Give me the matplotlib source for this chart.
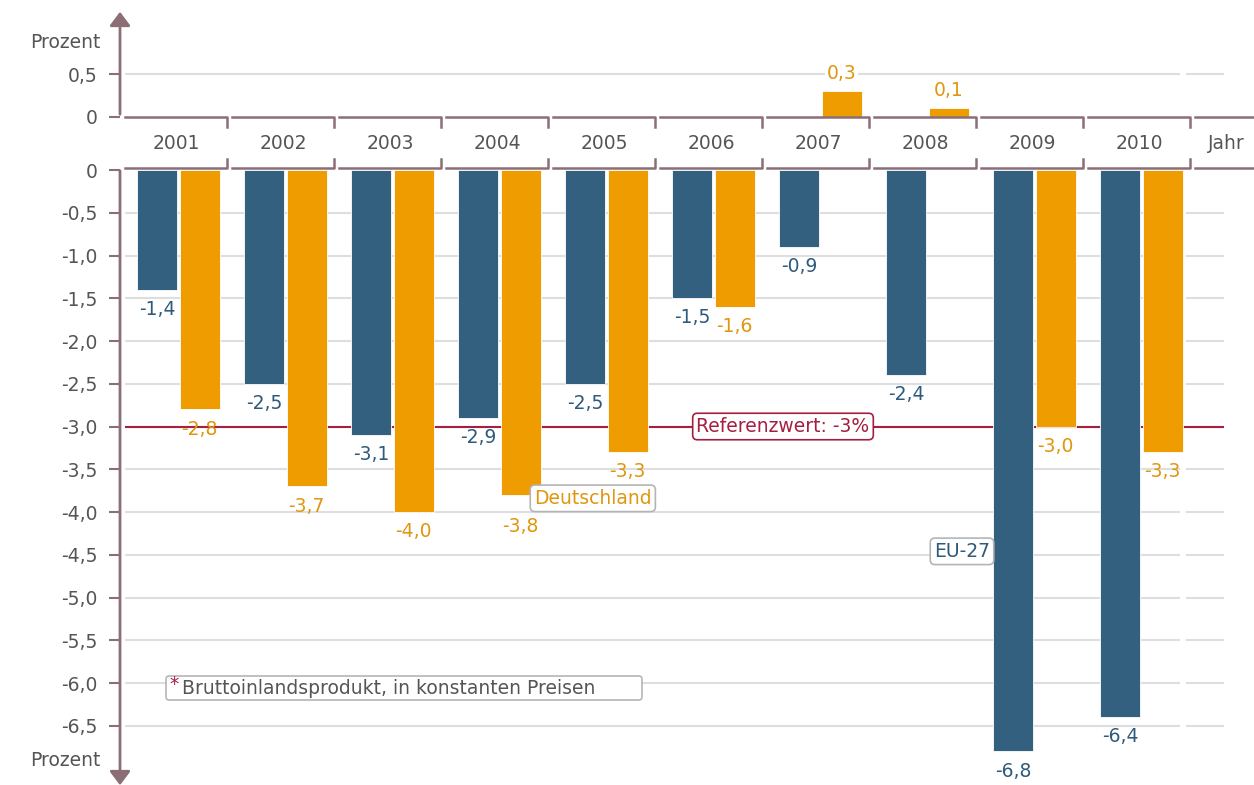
import matplotlib.pyplot as plt
from matplotlib.patches import FancyArrowPatch, FancyBboxPatch

# data (Defizit in % des BIP)
years = ['2001', '2002', '2003', '2004', '2005', '2006', '2007', '2008', '2009', '2010']
eu27 = [-1.4, -2.5, -3.1, -2.9, -2.5, -1.5, -0.9, -2.4, -6.8, -6.4]
deutschland = [-2.8, -3.7, -4.0, -3.8, -3.3, -1.6, 0.3, 0.1, -3.0, -3.3]
referenz = -3.0
top_ticks = [0, 0.5]
bot_ticks = [0, -0.5, -1.0, -1.5, -2.0, -2.5, -3.0, -3.5, -4.0, -4.5, -5.0, -5.5, -6.0, -6.5]

BLUE = '#34607f'
ORANGE = '#ef9c00'
BLUE_TXT = '#2f5a7b'
ORANGE_TXT = '#e0960f'
AXIS = '#8c6f76'
GRID = '#dedede'
RED = '#a51f42'
GREY_TXT = '#555555'
FS = 13.5

W, H = 1254, 785
K = 85.5          # pixel per Prozentpunkt
X0, DX = 178.5, 107.0

fig = plt.figure(figsize=(W / 100, H / 100), dpi=100)
plt.rcParams['font.family'] = 'DejaVu Sans'


def fy(py):
    return 1 - py / H


def fmt(v):
    return '0' if v == 0 else ('%.1f' % v).replace('.', ',')


xlim = ((120 - X0) / DX, (W - X0) / DX)
top_max = 0.75
bot_min = -7.15
ax_top = fig.add_axes([120 / W, fy(117), (W - 120) / W, top_max * K / H])
ax_bot = fig.add_axes([120 / W, fy(170 - bot_min * K), (W - 120) / W, -bot_min * K / H])
ax_top.set_ylim(0, top_max)
ax_bot.set_ylim(bot_min, 0)

for ax, ticks in [(ax_top, top_ticks), (ax_bot, bot_ticks)]:
    ax.set_xlim(*xlim)
    for s in ax.spines.values():
        s.set_visible(False)
    ax.set_xticks([])
    ax.set_yticks(ticks)
    ax.set_yticklabels([fmt(t) for t in ticks])
    ax.tick_params(axis='y', length=8, width=1.5, color=AXIS, pad=8,
                   labelsize=FS, labelcolor=GREY_TXT)
    # gridlines
    for t in ticks:
        if t == 0:
            continue
        ax.hlines(t, -0.5, 9.36, color=GRID, lw=1.5, zorder=0)
        ax.hlines(t, 9.42, 9.77, color=GRID, lw=1.5, zorder=0)

# reference line (behind the bars)
ax_bot.hlines(referenz, -0.5, 9.77, color=RED, lw=1.5, zorder=1)

off = 0.197
bw = 0.374
for i in range(len(years)):
    for val, dx, col, tcol in [(eu27[i], -off, BLUE, BLUE_TXT),
                               (deutschland[i], off, ORANGE, ORANGE_TXT)]:
        ax = ax_top if val > 0 else ax_bot
        ax.bar(i + dx, val, width=bw, color=col, edgecolor='white', lw=0.6, zorder=2)
        lab = fmt(val)
        if val > 0:
            ax.text(i + dx, val + 0.21, lab, ha='center', va='center', fontsize=FS,
                    color=tcol, zorder=4, clip_on=False,
                    bbox=dict(boxstyle='square,pad=0.1', fc='white', ec='none'))
        else:
            # 2004 Deutschland label sits lower, below the legend box
            shift = 0.37 if (i == 3 and dx > 0) else 0.23
            ax.text(i + dx, val - shift, lab, ha='center', va='center', fontsize=FS,
                    color=tcol, zorder=4, clip_on=False)

# year brackets and labels
for i in range(len(years) + 1):
    a, b = i - 0.5, i + 0.453
    ax_top.plot([a, b, b], [0, 0, -0.12], color=AXIS, lw=1.8, clip_on=False, zorder=3)
    ax_bot.plot([a, b, b], [0.023, 0.023, 0.13], color=AXIS, lw=1.8, clip_on=False, zorder=3)
    if i < len(years):
        ax_top.text(i - 0.02, -0.305, years[i], ha='center', va='center', fontsize=FS,
                    color=GREY_TXT, clip_on=False)
ax_top.text(9.79, -0.305, 'Jahr', ha='center', va='center', fontsize=FS,
            color=GREY_TXT, clip_on=False)

# y axis with arrows
fig.add_artist(FancyArrowPatch((120 / W, fy(117)), (120 / W, fy(9)), transform=fig.transFigure,
                               arrowstyle='-|>,head_length=0.6,head_width=0.45',
                               mutation_scale=14, color=AXIS, lw=2))
fig.add_artist(FancyArrowPatch((120 / W, fy(168)), (120 / W, fy(788)), transform=fig.transFigure,
                               arrowstyle='-|>,head_length=0.6,head_width=0.45',
                               mutation_scale=14, color=AXIS, lw=2))
fig.text(100 / W, fy(42), 'Prozent', ha='right', va='center', fontsize=FS, color=GREY_TXT)
fig.text(100 / W, fy(760), 'Prozent', ha='right', va='center', fontsize=FS, color=GREY_TXT)

# annotations
box = dict(boxstyle='round,pad=0.2,rounding_size=0.25', fc='white', ec='#b5b5b5', lw=1.2)
ax_bot.text((783 - X0) / DX, referenz, 'Referenzwert: -3%', ha='center', va='center',
            fontsize=FS, color=RED, zorder=5,
            bbox=dict(boxstyle='round,pad=0.2,rounding_size=0.25', fc='white', ec=RED, lw=1.2))
ax_bot.text((534 - X0) / DX, -3.84, 'Deutschland', ha='left', va='center',
            fontsize=FS, color=ORANGE_TXT, zorder=5, bbox=box)
ax_bot.text((934 - X0) / DX, -4.46, 'EU-27', ha='left', va='center',
            fontsize=FS, color=BLUE_TXT, zorder=5, bbox=box)

# footnote box
y_note = -(688 - 170) / K
ax_bot.add_patch(FancyBboxPatch(((166 - X0) / DX, -(700 - 170) / K), 476 / DX, 24 / K,
                                boxstyle='round,pad=0,rounding_size=0.03', fc='white',
                                ec='#b5b5b5', lw=1.2, zorder=5, mutation_aspect=DX / K))
ax_bot.text((169 - X0) / DX, y_note + 0.04, '*', ha='left', va='center', fontsize=FS,
            color=RED, zorder=6)
ax_bot.text((182 - X0) / DX, y_note, 'Bruttoinlandsprodukt, in konstanten Preisen',
            ha='left', va='center', fontsize=FS, color=GREY_TXT, zorder=6)

fig.savefig('out.png', dpi=100)
